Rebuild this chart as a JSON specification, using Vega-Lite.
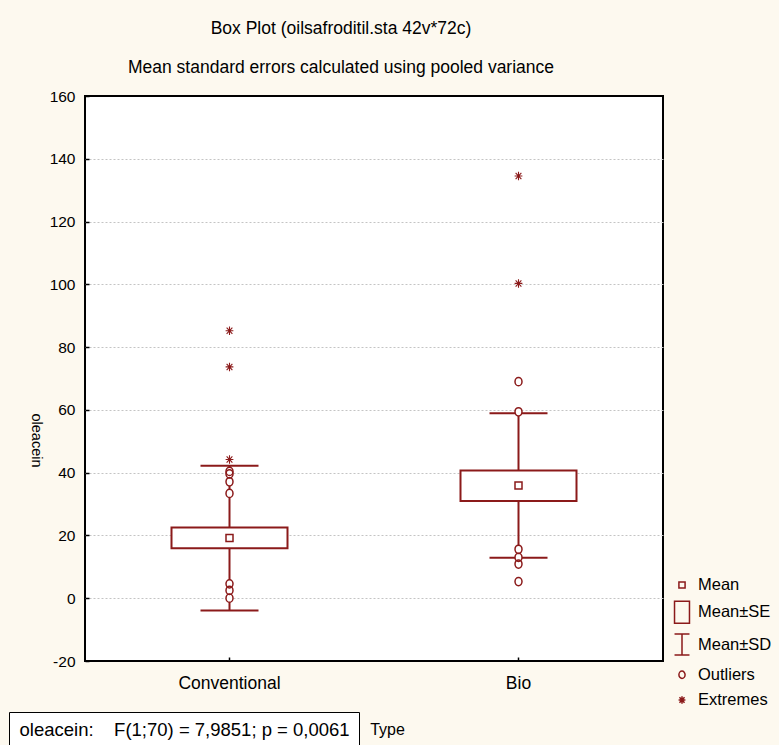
{
  "$schema": "https://vega.github.io/schema/vega-lite/v6.json",
  "width": 578,
  "height": 565,
  "autosize": "none",
  "padding": {"left": 85, "top": 96, "right": 116, "bottom": 84},
  "background": "#fdf9ef",
  "config": {
    "font": "Liberation Sans",
    "view": {"stroke": "#000000", "strokeWidth": 2, "fill": "#ffffff"}
  },
  "title": {
    "text": "Box Plot (oilsafroditil.sta 42v*72c)",
    "subtitle": "Mean standard errors calculated using pooled variance",
    "anchor": "middle",
    "frame": "group",
    "dx": -33,
    "offset": 13,
    "subtitlePadding": 21,
    "fontSize": 17.5,
    "fontWeight": "normal",
    "color": "#000000",
    "subtitleFontSize": 17.5,
    "subtitleColor": "#000000",
    "font": "Liberation Sans",
    "subtitleFont": "Liberation Sans"
  },
  "datasets": {
    "summary": [
      {"Type": "Conventional", "mean": 19.2, "seLo": 15.9, "seHi": 22.5, "sdLo": -3.9, "sdHi": 42.2, "test": "oleacein:\u00a0\u00a0\u00a0\u00a0F(1;70) = 7,9851; p = 0,0061"},
      {"Type": "Bio", "mean": 35.9, "seLo": 31.0, "seHi": 40.7, "sdLo": 12.9, "sdHi": 58.9, "test": "oleacein:\u00a0\u00a0\u00a0\u00a0F(1;70) = 7,9851; p = 0,0061"}
    ],
    "points": [
      {"Type": "Conventional", "kind": "Mean", "value": 19.2},
      {"Type": "Bio", "kind": "Mean", "value": 35.9},
      {"Type": "Conventional", "kind": "Outliers", "value": 40.4},
      {"Type": "Conventional", "kind": "Outliers", "value": 39.6},
      {"Type": "Conventional", "kind": "Outliers", "value": 37.1},
      {"Type": "Conventional", "kind": "Outliers", "value": 33.4},
      {"Type": "Conventional", "kind": "Outliers", "value": 4.6},
      {"Type": "Conventional", "kind": "Outliers", "value": 2.5},
      {"Type": "Conventional", "kind": "Outliers", "value": 0.0},
      {"Type": "Conventional", "kind": "Extremes", "value": 85.2},
      {"Type": "Conventional", "kind": "Extremes", "value": 73.7},
      {"Type": "Conventional", "kind": "Extremes", "value": 44.2},
      {"Type": "Bio", "kind": "Outliers", "value": 69.0},
      {"Type": "Bio", "kind": "Outliers", "value": 59.4},
      {"Type": "Bio", "kind": "Outliers", "value": 15.6},
      {"Type": "Bio", "kind": "Outliers", "value": 13.0},
      {"Type": "Bio", "kind": "Outliers", "value": 10.9},
      {"Type": "Bio", "kind": "Outliers", "value": 5.3},
      {"Type": "Bio", "kind": "Extremes", "value": 134.5},
      {"Type": "Bio", "kind": "Extremes", "value": 100.3}
    ]
  },
  "encoding": {
    "x": {
      "field": "Type",
      "type": "nominal",
      "sort": ["Conventional", "Bio"],
      "scale": {"type": "band", "paddingInner": 0, "paddingOuter": 0, "domain": ["Conventional", "Bio"]},
      "axis": {
        "title": "Type",
        "labelAngle": 0,
        "labelFontSize": 17.5,
        "labelColor": "#000000",
        "labelPadding": 17,
        "tickSize": -4,
        "tickColor": "#000000",
        "tickWidth": 1.5,
        "domain": false,
        "grid": false,
        "titleFontSize": 16,
        "titleFontWeight": "normal",
        "titleColor": "#000000",
        "titleX": 302,
        "titleY": 68,
        "titleBaseline": "middle",
        "titleAlign": "center"
      }
    }
  },
  "resolve": {"scale": {"shape": "independent"}},
  "layer": [
    {
      "data": {"name": "summary"},
      "mark": {"type": "rule", "strokeWidth": 2},
      "encoding": {
        "y": {
          "field": "sdLo",
          "type": "quantitative",
          "scale": {"domain": [-20, 160], "nice": false, "zero": false},
          "axis": {
            "values": [-20, 0, 20, 40, 60, 80, 100, 120, 140, 160],
            "labelExpr": "datum.value + ''",
            "labelFontSize": 15.5,
            "labelColor": "#000000",
            "labelPadding": 14,
            "tickSize": -4,
            "tickColor": "#000000",
            "tickWidth": 1.5,
            "domain": false,
            "grid": true,
            "gridColor": "#c4c4c4",
            "gridDash": [2, 2],
            "gridOpacity": {"condition": {"test": "datum.value == -20 || datum.value == 160", "value": 0}, "value": 1},
            "title": "oleacein",
            "titleFontSize": 14.5,
            "titleFontWeight": 400,
            "titleColor": "#000000",
            "titleAngle": 90,
            "titleX": -50,
            "titleY": 344,
            "titleBaseline": "middle",
            "titleAlign": "center"
          }
        },
        "y2": {"field": "sdHi"},
        "color": {
          "field": "test",
          "type": "nominal",
          "scale": {"range": ["#8b1a1a"]},
          "legend": {
            "title": null,
            "orient": "none",
            "legendX": -76,
            "legendY": 616,
            "padding": 9,
            "strokeColor": "#000000",
            "fillColor": "#ffffff",
            "symbolSize": 0,
            "symbolOpacity": 0,
            "symbolStrokeWidth": 0,
            "labelOffset": -17,
            "labelFontSize": 18.5,
            "labelColor": "#000000",
            "labelLimit": 0
          }
        }
      }
    },
    {
      "data": {"name": "summary"},
      "mark": {"type": "tick", "size": 58, "thickness": 2, "color": "#8b1a1a", "opacity": 1},
      "encoding": {"y": {"field": "sdHi", "type": "quantitative"}}
    },
    {
      "data": {"name": "summary"},
      "mark": {"type": "tick", "size": 58, "thickness": 2, "color": "#8b1a1a", "opacity": 1},
      "encoding": {"y": {"field": "sdLo", "type": "quantitative"}}
    },
    {
      "data": {"name": "summary"},
      "mark": {"type": "bar", "width": 116, "fill": "#ffffff", "stroke": "#8b1a1a", "strokeWidth": 2, "opacity": 1},
      "encoding": {
        "y": {"field": "seLo", "type": "quantitative"},
        "y2": {"field": "seHi"}
      }
    },
    {
      "data": {"name": "points"},
      "mark": {"type": "point", "filled": true, "color": "#ffffff", "size": 625, "opacity": 1, "strokeWidth": 0},
      "encoding": {
        "y": {"field": "value", "type": "quantitative"},
        "shape": {
          "field": "kind",
          "type": "nominal",
          "scale": {
            "domain": ["Mean", "Mean±SE", "Mean±SD", "Outliers", "Extremes"],
            "range": [
              "M-0.28,-0.28H0.28V0.28H-0.28Z",
              "M-0.68,-1H0.68V1H-0.68Z",
              "M-0.68,-0.95H0.68M0,-0.95V0.95M-0.68,0.95H0.68",
              "M0.28,0A0.28,0.33 0 1 1 -0.28,0A0.28,0.33 0 1 1 0.28,0Z",
              "M0,-0.34V0.34M-0.31,0H0.31M-0.23,-0.25L0.23,0.25M-0.23,0.25L0.23,-0.25"
            ]
          },
          "legend": null
        }
      }
    },
    {
      "data": {"name": "points"},
      "mark": {"type": "point", "filled": false, "color": "#8b1a1a", "size": 625, "opacity": 1, "strokeWidth": 1.5},
      "encoding": {
        "y": {"field": "value", "type": "quantitative"},
        "strokeWidth": {"condition": {"test": "datum.kind == 'Extremes'", "value": 1.1}, "value": 1.5},
        "shape": {
          "field": "kind",
          "type": "nominal",
          "scale": {
            "domain": ["Mean", "Mean±SE", "Mean±SD", "Outliers", "Extremes"],
            "range": [
              "M-0.28,-0.28H0.28V0.28H-0.28Z",
              "M-0.68,-1H0.68V1H-0.68Z",
              "M-0.68,-0.95H0.68M0,-0.95V0.95M-0.68,0.95H0.68",
              "M0.28,0A0.28,0.33 0 1 1 -0.28,0A0.28,0.33 0 1 1 0.28,0Z",
              "M0,-0.34V0.34M-0.31,0H0.31M-0.23,-0.25L0.23,0.25M-0.23,0.25L0.23,-0.25"
            ]
          },
          "legend": {
            "title": null,
            "orient": "none",
            "legendX": 585,
            "legendY": 477,
            "padding": 0,
            "symbolSize": 484,
            "symbolStrokeWidth": 1.5,
            "symbolStrokeColor": "#8b1a1a",
            "symbolFillColor": "transparent",
            "rowPadding": 4.25,
            "labelOffset": 4,
            "labelFontSize": 16.5,
            "labelColor": "#000000",
            "labelLimit": 0
          }
        }
      }
    }
  ]
}
